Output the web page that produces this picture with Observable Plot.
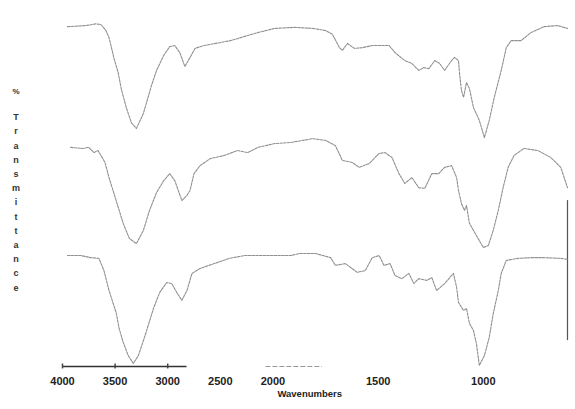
<!DOCTYPE html>
<html>
<head>
<meta charset="utf-8">
<script src="https://cdn.jsdelivr.net/npm/d3@7"></script>
<script src="https://cdn.jsdelivr.net/npm/@observablehq/plot@0.6"></script>
<style>
  html, body { margin: 0; padding: 0; background: #fff; }
  #wrap { position: relative; width: 575px; height: 409px; overflow: hidden; }
  #ylab { position: absolute; left: 8px; top: 85px; width: 16px; text-align: center;
          font-family: "Liberation Sans", Arial, sans-serif; font-weight: bold; font-size: 9px;
          color: #333; line-height: 14.2px; }
  #ylab span { display: block; }
</style>
</head>
<body>
<div id="wrap"><div id="ylab"></div></div>
<script>
// Wavenumbers (cm^-1) and % transmittance (arbitrary stacked units)
const topWn = [3952,3779,3683,3635,3587,3558,3510,3471,3442,3394,3346,3298,3231,3154,3106,3038,2981,2933,2885,2837,2788,2740,2654,2404,2144,1991,1896,1811,1750,1717,1684,1670,1646,1613,1575,1528,1448,1420,1373,1340,1307,1283,1259,1231,1208,1184,1151,1137,1118,1113,1104,1094,1080,1066,1047,1019,995,972,948,915,891,868,821,774,712,646,600];
const topT  = [97.1,97.4,97.9,97.7,96.0,94.0,88.0,84.0,79.4,74.0,69.7,68.0,72.3,80.3,84.6,88.9,91.4,91.7,89.7,85.7,88.3,90.9,91.7,93.1,95.4,96.6,96.9,96.6,96.0,94.9,91.1,90.3,92.3,90.9,91.1,91.7,91.7,89.7,87.4,86.6,84.6,85.4,85.1,87.4,86.6,84.6,87.4,88.3,87.4,83.7,78.9,76.9,81.1,79.4,74.0,70.3,65.4,70.3,76.9,84.6,91.1,93.1,93.1,95.4,97.1,97.4,96.6];

const midWn = [3923,3808,3750,3702,3663,3635,3596,3558,3490,3423,3365,3298,3231,3173,3106,3038,2981,2933,2865,2817,2788,2750,2692,2596,2462,2337,2240,2144,1991,1915,1811,1750,1703,1670,1623,1590,1542,1495,1467,1434,1401,1373,1340,1307,1278,1245,1212,1184,1151,1127,1118,1104,1090,1080,1066,1033,1000,976,953,929,906,882,854,807,741,679,632,600];
const midT  = [62.6,62.3,62.6,61.1,61.7,60.3,58.3,54.0,47.4,40.9,36.6,35.1,38.9,44.6,49.7,53.1,55.1,53.1,47.4,48.9,50.3,55.1,57.4,59.4,60.3,61.7,61.1,62.6,63.7,64.0,65.1,64.6,63.1,58.9,58.3,56.9,58.0,60.9,61.1,59.7,55.1,52.3,54.0,51.1,50.9,55.1,55.1,56.9,57.4,54.0,50.3,46.6,44.6,46.0,40.9,37.4,34.0,34.6,38.9,44.6,51.1,56.9,60.3,62.3,61.7,59.7,56.9,51.1];

const botWn = [3952,3827,3731,3654,3606,3558,3490,3462,3423,3375,3327,3279,3221,3135,3077,3010,2962,2913,2865,2817,2769,2692,2558,2414,2269,2144,2019,1915,1873,1797,1726,1703,1656,1599,1561,1528,1495,1472,1443,1420,1387,1354,1330,1307,1269,1245,1222,1184,1142,1127,1118,1094,1080,1066,1047,1033,1019,995,972,953,929,915,891,835,774,712,632,600];
const botT  = [31.7,31.7,31.1,30.9,27.4,21.7,15.4,10.9,6.9,3.1,0.9,3.1,8.3,16.6,21.1,24.0,23.7,21.1,18.9,21.7,26.6,28.0,29.4,30.9,31.7,31.7,31.7,31.7,32.3,32.3,31.1,28.9,29.4,26.9,27.4,31.1,31.7,28.9,29.4,26.0,25.1,26.6,23.7,25.1,24.6,25.4,21.7,23.7,26.6,22.6,18.3,16.0,16.6,12.3,10.3,6.6,0.3,3.1,8.3,15.1,21.7,26.6,30.3,30.9,31.1,31.1,30.9,30.6];

const xTicks = [4000,3500,3000,2500,2000,1500,1000];
const xTickMarks = [4000,3500,3000];
const xLabel = "Wavenumbers";
const yLabel = "% Transmittance";

// The instrument plot doubles the scale below 2000 cm^-1: map wavenumber to a linear "position"
const BREAK = 2000;
const warp = w => (w >= BREAK ? w : BREAK - (BREAK - w) * 2);
const unwarp = u => (u >= BREAK ? u : BREAK - (BREAK - u) / 2);

const series = [
  {name: "top", wn: topWn, t: topT},
  {name: "middle", wn: midWn, t: midT},
  {name: "bottom", wn: botWn, t: botT}
];
const rows = series.flatMap(s => s.wn.map((w, i) => ({series: s.name, wn: w, t: s.t[i]})));

const lineStyle = {stroke: "#8f8f8f", strokeWidth: 1.1, strokeDasharray: "2.5,1.2"};
const X = w => warp(w);

const chart = Plot.plot({
  width: 575,
  height: 409,
  marginLeft: 62,
  marginRight: 8,
  marginTop: 16,
  marginBottom: 43,
  style: {fontFamily: "Liberation Sans, Arial, sans-serif", background: "#fff"},
  x: {domain: [warp(4000), warp(600)], range: [62, 567]},
  y: {domain: [0, 100], axis: null},
  marks: [
    Plot.axisX(xTicks.map(warp), {tickSize: 0, tickPadding: 11, tickFormat: u => String(Math.round(unwarp(u))),
      fontSize: 11, fontWeight: "bold", fill: "#222", label: null}),
    Plot.text([xLabel], {x: [X(1825)], frameAnchor: "bottom", dy: 30, fontSize: 9.5, fontWeight: "bold", fill: "#222"}),
    Plot.ruleY([0], {x1: X(4000), x2: X(2817), stroke: "#333", strokeWidth: 1.5}),
    Plot.ruleY([0], {x1: X(2067), x2: X(1764), stroke: "#999", strokeWidth: 1, strokeDasharray: "5,2"}),
    Plot.ruleX(xTickMarks.map(X), {y1: -0.7, y2: 0.7, stroke: "#444", strokeWidth: 1.5}),
    Plot.ruleX([X(600)], {y1: 7.4, y2: 47.4, stroke: "#555", strokeWidth: 1.2}),
    Plot.line(rows, {x: d => X(d.wn), y: "t", z: "series", ...lineStyle})
  ]
});
document.getElementById("wrap").prepend(chart);

const yl = document.getElementById("ylab");
const chars = [yLabel[0], ...yLabel.slice(2)];
chars.forEach((c, i) => {
  const s = document.createElement("span");
  s.textContent = c;
  if (i === 0) { s.style.fontSize = "8px"; s.style.marginBottom = "11px"; }
  yl.appendChild(s);
});
</script>
</body>
</html>
